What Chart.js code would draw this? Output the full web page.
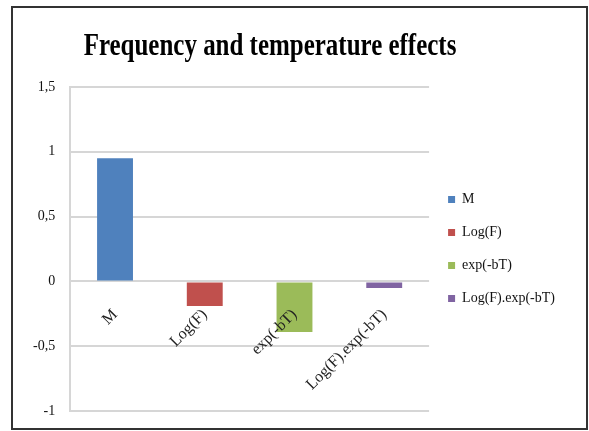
<!DOCTYPE html>
<html>
<head>
<meta charset="utf-8">
<script src="https://cdn.jsdelivr.net/npm/chart.js@4/dist/chart.umd.min.js"></script>
<style>
    html, body { margin: 0; padding: 0; background: #fff; }
    #frame {
        position: absolute;
        left: 11px; top: 6px;
        width: 577px; height: 424px;
        box-sizing: border-box;
        border: 2px solid #333;
        background: #fff;
        overflow: hidden;
    }
    #chart { display: block; }
</style>
</head>
<body>
<div id="frame">
    <canvas id="chart" width="573" height="427"></canvas>
</div>
<script>
// Datos del gráfico
const chartTitle = 'Frequency and temperature effects';
const categories = ['M', 'Log(F)', 'exp(-bT)', 'Log(F).exp(-bT)'];
const values = [0.95, -0.19, -0.39, -0.05];
const colors = ['#4F81BD', '#C0504D', '#9BBB59', '#8064A2'];
const yMin = -1;
const yMax = 1.5;
const yStep = 0.5;

(function() {
    'use strict';

    const serif = '"Liberation Serif", "Times New Roman", serif';

    // Cada serie ocupa solo su propia categoría
    const datasets = categories.map(function(name, i) {
        return {
            label: name,
            data: categories.map(function(_, j) { return j === i ? values[i] : null; }),
            backgroundColor: colors[i],
            borderWidth: 0,
            categoryPercentage: 0.8,
            barPercentage: 0.5
        };
    });

    // Título dibujado a mano (más estrecho, como el original)
    const titlePlugin = {
        id: 'narrowTitle',
        afterDraw: function(chart) {
            const ctx = chart.ctx;
            ctx.save();
            ctx.font = 'bold 32px ' + serif;
            ctx.fillStyle = '#000';
            ctx.textAlign = 'center';
            ctx.textBaseline = 'alphabetic';
            ctx.translate(257, 47);
            ctx.scale(0.78, 1);
            ctx.fillText(chartTitle, 0, 0);
            ctx.restore();
        }
    };

    new Chart(document.getElementById('chart'), {
        type: 'bar',
        data: { labels: categories, datasets: datasets },
        plugins: [titlePlugin],
        options: {
            responsive: false,
            animation: false,
            skipNull: true,
            layout: { padding: { left: 5, top: 79, bottom: 24, right: 21 } },
            plugins: {
                title: { display: false },
                tooltip: { enabled: false },
                legend: {
                    position: 'right',
                    labels: {
                        boxWidth: 7,
                        boxHeight: 7,
                        padding: 19,
                        color: '#111',
                        font: { family: serif, size: 14 }
                    }
                }
            },
            scales: {
                x: {
                    position: { y: 0 },
                    grid: { display: false, drawTicks: false },
                    border: { display: false },
                    ticks: {
                        z: 1,
                        minRotation: 45,
                        maxRotation: 45,
                        padding: 24,
                        color: '#222',
                        font: { family: serif, size: 16 }
                    }
                },
                y: {
                    min: yMin,
                    max: yMax,
                    grid: { color: '#d6d6d6', lineWidth: 2, drawTicks: false },
                    border: { display: true, color: '#d6d6d6', width: 2 },
                    ticks: {
                        stepSize: yStep,
                        padding: 15,
                        color: '#111',
                        font: { family: serif, size: 14 },
                        callback: function(v) { return String(v).replace('.', ','); }
                    }
                }
            }
        }
    });
})();
</script>
</body>
</html>
